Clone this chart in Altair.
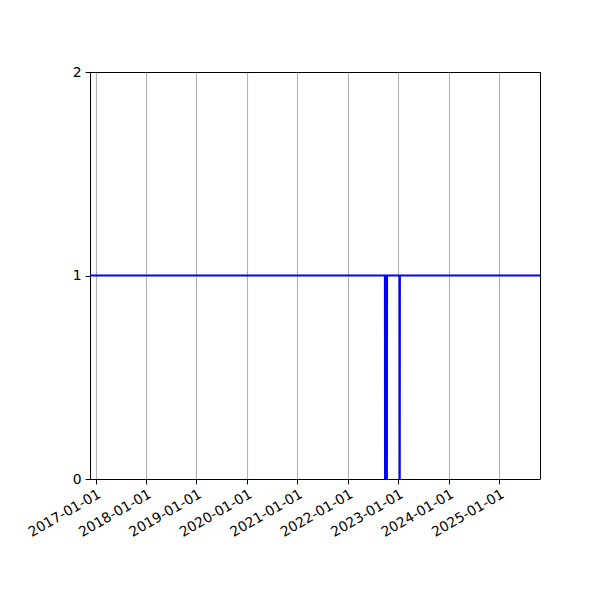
import altair as alt
import pandas as pd

# data: status series (1 = on, 0 = off)
dates = [
    "2016-11-21", "2022-09-27", "2022-09-28", "2022-10-11", "2022-10-12",
    "2023-01-11", "2023-01-12", "2023-01-13", "2025-10-24",
]
values = [1, 1, 0, 0, 1, 1, 0, 1, 1]
tick_years = [2017, 2018, 2019, 2020, 2021, 2022, 2023, 2024, 2025]
y_ticks = [0, 1, 2]

df = pd.DataFrame({"date": dates, "value": values})

FONT = "DejaVu Sans"
x_start = alt.DateTime(year=2016, month=11, date=21, utc=True)
x_end = alt.DateTime(year=2025, month=10, date=24, utc=True)

x_scale = alt.Scale(type="utc", domain=[x_start, x_end], nice=False)
y_scale = alt.Scale(domain=[0, 2], nice=False, zero=True)

line = alt.Chart(df).mark_line(color="#0000ff", strokeWidth=2.1, clip=True, interpolate="linear").encode(
    x=alt.X(
        "date:T",
        scale=x_scale,
        axis=alt.Axis(
            title=None,
            values=[alt.DateTime(year=y, month=1, date=1, utc=True) for y in tick_years],
            format="%Y-%m-%d",
            labelAngle=-30,
            labelAlign="right",
            labelBaseline="top",
            labelFont=FONT,
            labelFontSize=13.9,
            labelColor="black",
            labelPadding=3,
            tickColor="black",
            tickSize=4.9,
            tickWidth=1,
            domainColor="black",
            domainWidth=1,
            grid=True,
            gridColor="#b0b0b0",
            gridWidth=1.1,
            labelOverlap=False,
            labelFlush=False,
        ),
    ),
    y=alt.Y(
        "value:Q",
        scale=y_scale,
        axis=alt.Axis(
            title=None,
            values=[float(v) for v in y_ticks],
            tickCount=3,
            labelExpr="format(datum.value, '.0f')",
            grid=False,
            labelFont=FONT,
            labelFontSize=13.9,
            labelColor="black",
            labelPadding=4,
            labelOverlap=False,
            labelFlush=False,
            tickColor="black",
            tickSize=4.9,
            tickWidth=1,
            domainColor="black",
            domainWidth=1,
        ),
    ),
)

top_rule = alt.Chart(df).mark_rule(color="black", strokeWidth=1, yOffset=0.5).encode(
    y=alt.datum(2, type="quantitative", scale=y_scale)
)
right_rule = alt.Chart(df).mark_rule(color="black", strokeWidth=1, xOffset=0.5).encode(
    x=alt.datum(x_end, type="temporal", scale=x_scale)
)

chart = alt.layer(line, top_rule, right_rule).properties(
    width=450,
    height=407,
    autosize=alt.AutoSizeParams(type="none"),
    padding={"left": 82, "top": 64, "right": 40, "bottom": 100},
).configure_view(stroke=None).configure(background="white")

chart.save("out.html", embed_options={"renderer": "svg", "actions": False})
